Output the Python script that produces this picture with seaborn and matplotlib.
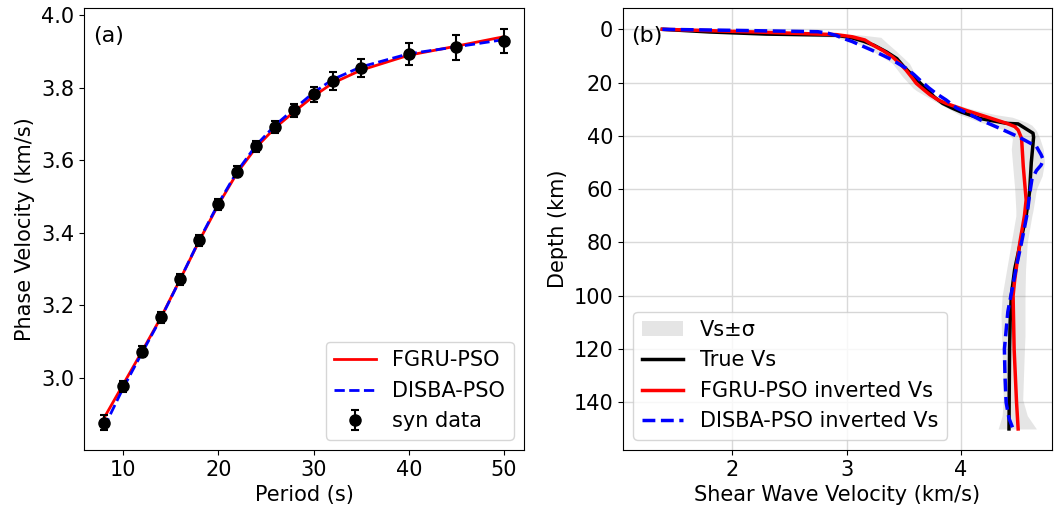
import numpy as np
import pandas as pd
import matplotlib
matplotlib.use("Agg")
import matplotlib.pyplot as plt
import seaborn as sns

# ---------------- Panel (a) data ----------------
period = [8, 10, 12, 14, 16, 18, 20, 22, 24, 26, 28, 30, 32, 35, 40, 45, 50]
syn_vel = [2.877, 2.978, 3.072, 3.167, 3.272, 3.379, 3.478, 3.568, 3.638, 3.692,
           3.737, 3.781, 3.818, 3.854, 3.892, 3.911, 3.928]
syn_err = [0.020, 0.015, 0.015, 0.015, 0.015, 0.015, 0.015, 0.015, 0.015, 0.016,
           0.018, 0.020, 0.024, 0.025, 0.030, 0.034, 0.034]
fgru_vel = [2.890, 2.982, 3.074, 3.168, 3.272, 3.378, 3.477, 3.566, 3.636, 3.690,
            3.734, 3.776, 3.812, 3.848, 3.889, 3.914, 3.940]
disba_vel = [2.864, 2.972, 3.070, 3.166, 3.272, 3.380, 3.480, 3.570, 3.642, 3.697,
             3.742, 3.786, 3.822, 3.857, 3.893, 3.912, 3.932]

# ---------------- Panel (b) data ----------------
true_depth = [0, 1.0, 1.8, 2.2, 3.0, 4.5, 6, 8.5, 11, 14, 17, 20, 23, 25.5, 27.8,
              29.5, 31, 33.5, 35.3, 35.5, 39, 40.5, 50, 61, 70, 80, 90, 100, 110,
              120, 150]
true_vs = [1.39, 1.80, 2.30, 2.90, 3.03, 3.15, 3.24, 3.35, 3.44, 3.50, 3.57, 3.64,
           3.71, 3.77, 3.84, 3.92, 4.00, 4.17, 4.40, 4.50, 4.63, 4.635, 4.615, 4.60,
           4.57, 4.52, 4.47, 4.44, 4.43, 4.425, 4.42]

fgru_depth = [0, 1.0, 2.0, 2.8, 4.0, 5.9, 8, 10.3, 13, 15.3, 18, 20.3, 22.5, 24.6,
              26.5, 27.8, 29, 30.5, 32.8, 35.3, 36.5, 37.8, 40.9, 51.5, 64, 70, 80,
              94, 100, 120, 140, 150]
fgru_vs = [1.39, 2.20, 2.91, 3.05, 3.16, 3.23, 3.32, 3.40, 3.47, 3.52, 3.57, 3.61,
           3.67, 3.73, 3.80, 3.87, 3.95, 4.05, 4.22, 4.40, 4.47, 4.50, 4.53, 4.545,
           4.57, 4.555, 4.515, 4.47, 4.456, 4.465, 4.486, 4.50]

disba_depth = [0, 0.45, 0.9, 1.5, 2.3, 3.4, 4.6, 6.5, 7.8, 10, 11.5, 14.6, 17, 19,
               22, 24, 26.5, 29.5, 32, 34, 37, 40.5, 44, 47, 49, 51, 53, 56.4, 62,
               69, 80, 88, 97, 106, 120, 130, 140, 146, 150]
disba_vs = [1.39, 2.10, 2.75, 2.84, 2.91, 2.97, 3.05, 3.15, 3.22, 3.33, 3.40, 3.52,
            3.59, 3.64, 3.72, 3.78, 3.87, 3.96, 4.08, 4.17, 4.33, 4.51, 4.66, 4.70,
            4.72, 4.70, 4.66, 4.62, 4.60, 4.58, 4.53, 4.49, 4.45, 4.41, 4.38, 4.385,
            4.395, 4.42, 4.456]

band_depth = [0, 1, 2, 3, 5, 8, 10, 12.8, 17.8, 22, 23, 27, 30, 32, 33, 35, 36, 38,
              41, 45, 50, 55, 60, 68, 70, 80, 90, 100, 107, 115, 120, 139, 145, 150]
band_lo = [1.39, 1.70, 2.30, 2.90, 3.08, 3.22, 3.30, 3.40, 3.49, 3.58, 3.61, 3.77,
           3.90, 3.98, 4.05, 4.18, 4.25, 4.40, 4.45, 4.44, 4.45, 4.46, 4.47, 4.48,
           4.48, 4.44, 4.40, 4.36, 4.35, 4.355, 4.36, 4.37, 4.36, 4.325]
band_hi = [1.39, 2.40, 3.10, 3.30, 3.35, 3.43, 3.48, 3.55, 3.61, 3.68, 3.70, 3.86,
           4.10, 4.30, 4.45, 4.58, 4.62, 4.66, 4.69, 4.72, 4.73, 4.71, 4.66, 4.63,
           4.62, 4.58, 4.565, 4.56, 4.56, 4.56, 4.555, 4.54, 4.58, 4.66]

plt.rcParams['font.family'] = ['DejaVu Sans']
FS = 15

fig = plt.figure(figsize=(10.54, 5.15), dpi=100)
ax1 = fig.add_axes([84 / 1054, 1 - 450 / 515, (524 - 84) / 1054, (450 - 8) / 515])
ax2 = fig.add_axes([623 / 1054, 1 - 450 / 515, (1052 - 623) / 1054, (450 - 8) / 515])

# ---- Panel (a)
dfa = pd.DataFrame({"period": period, "fgru": fgru_vel, "disba": disba_vel})
sns.lineplot(data=dfa, x="period", y="fgru", ax=ax1, color="red", lw=2,
             label="FGRU-PSO")
sns.lineplot(data=dfa, x="period", y="disba", ax=ax1, color="blue", lw=2,
             linestyle="--", label="DISBA-PSO")
ax1.errorbar(period, syn_vel, yerr=syn_err, fmt="o", color="black", ms=8,
             capsize=3, elinewidth=1.5, capthick=1.5, label="syn data", zorder=3)
ax1.set_xlim(5.9, 52.1)
ax1.set_ylim(2.802, 4.019)
ax1.set_yticks([3.0, 3.2, 3.4, 3.6, 3.8, 4.0])
ax1.set_xticks([10, 20, 30, 40, 50])
ax1.set_xlabel("Period (s)", fontsize=FS)
ax1.set_ylabel("Phase Velocity (km/s)", fontsize=FS)
ax1.tick_params(labelsize=FS)
ax1.text(0.02, 0.96, "(a)", transform=ax1.transAxes, fontsize=16,
         ha="left", va="top")
ax1.legend(loc="lower right", fontsize=FS)

# ---- Panel (b)
ax2.grid(True, color="#d9d9d9", lw=1)
ax2.set_axisbelow(True)
ax2.fill_betweenx(band_depth, band_lo, band_hi, color="gray", alpha=0.2,
                  lw=0, label="Vs±σ")
sns.lineplot(x=true_vs, y=true_depth, ax=ax2, orient="y", sort=False,
             color="black", lw=2.5, label="True Vs")
sns.lineplot(x=fgru_vs, y=fgru_depth, ax=ax2, orient="y", sort=False,
             color="red", lw=2.5, label="FGRU-PSO inverted Vs")
sns.lineplot(x=disba_vs, y=disba_depth, ax=ax2, orient="y", sort=False,
             color="blue", lw=2.5, linestyle="--", label="DISBA-PSO inverted Vs")
ax2.set_xlim(1.046, 4.796)
ax2.set_ylim(157.9, -8.0)
ax2.set_xticks([2, 3, 4])
ax2.set_yticks([0, 20, 40, 60, 80, 100, 120, 140])
ax2.set_xlabel("Shear Wave Velocity (km/s)", fontsize=FS)
ax2.set_ylabel("Depth (km)", fontsize=FS)
ax2.tick_params(labelsize=FS)
ax2.text(0.02, 0.96, "(b)", transform=ax2.transAxes, fontsize=16,
         ha="left", va="top")
ax2.legend(loc="lower left", fontsize=FS)

fig.savefig("out.png", dpi=100)
